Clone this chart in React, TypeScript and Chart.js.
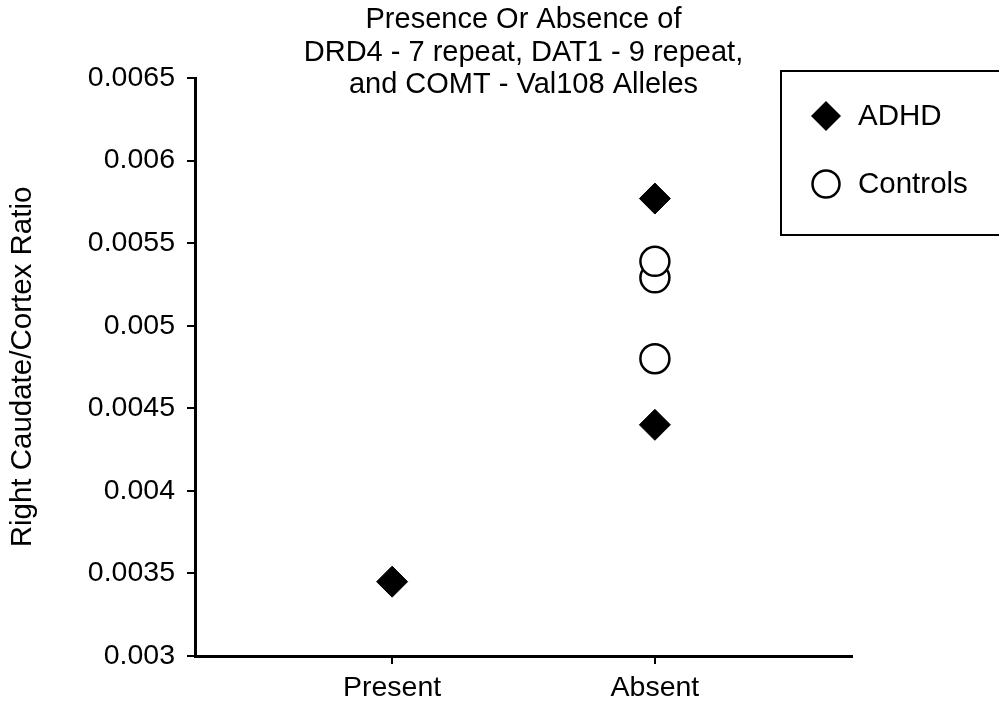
import React, { useEffect, useRef } from "react";
import { Chart, registerables } from "chart.js";

Chart.register(...registerables);

const titleLines = [
  "Presence Or Absence of",
  "DRD4 - 7 repeat, DAT1 - 9 repeat,",
  "and COMT - Val108 Alleles",
];
const categories = ["Present", "Absent"];
const yAxisTitle = "Right Caudate/Cortex Ratio";
const yMin = 0.003;
const yMax = 0.0065;
const yStep = 0.0005;

// category index (0 = Present, 1 = Absent) and value
const adhdCategory = [0, 1, 1];
const adhdValues = [0.00345, 0.00577, 0.0044];
const controlsCategory = [1, 1, 1];
const controlsValues = [0.0048, 0.00529, 0.00539];

const FONT = "'Liberation Sans', Arial, Helvetica, sans-serif";

const legendBoxPlugin = {
  id: "legendBox",
  afterDraw(chart: any) {
    const ctx = chart.ctx;
    ctx.save();
    ctx.strokeStyle = "#000";
    ctx.lineWidth = 2;
    ctx.strokeRect(781, 71, 240, 164);
    const rows = [116, 184];
    chart.data.datasets.forEach((ds: any, i: number) => {
      const cx = 826;
      const cy = rows[i];
      ctx.beginPath();
      if (ds.pointStyle === "rectRot") {
        const r = 15;
        ctx.moveTo(cx - r, cy);
        ctx.lineTo(cx, cy - r);
        ctx.lineTo(cx + r, cy);
        ctx.lineTo(cx, cy + r);
        ctx.closePath();
        ctx.fillStyle = "#000";
        ctx.fill();
      } else {
        ctx.arc(cx, cy, 13.5, 0, Math.PI * 2);
        ctx.fillStyle = "#fff";
        ctx.fill();
        ctx.lineWidth = 2.5;
        ctx.strokeStyle = "#000";
        ctx.stroke();
      }
      ctx.fillStyle = "#000";
      ctx.font = `29.5px ${FONT}`;
      ctx.textBaseline = "middle";
      ctx.textAlign = "left";
      ctx.fillText(ds.label, 858, cy + 1);
    });
    ctx.restore();
  },
};

export default function App() {
  const ref = useRef<HTMLCanvasElement | null>(null);
  useEffect(() => {
    document.body.style.margin = "0";
    if (!ref.current) return;
    const chart = new Chart(ref.current, {
      type: "scatter",
      data: {
        datasets: [
          {
            label: "ADHD",
            data: adhdValues.map((v, i) => ({ x: adhdCategory[i] + 1, y: v })),
            pointStyle: "rectRot",
            pointRadius: 15.5,
            pointHoverRadius: 15.5,
            backgroundColor: "#000",
            borderColor: "#000",
            borderWidth: 1,
          },
          {
            label: "Controls",
            data: controlsValues.map((v, i) => ({ x: controlsCategory[i] + 1, y: v })),
            pointStyle: "circle",
            pointRadius: 14.5,
            pointHoverRadius: 14.5,
            backgroundColor: "#fff",
            borderColor: "#000",
            borderWidth: 2.5,
          },
        ],
      },
      options: {
        responsive: false,
        animation: false,
        layout: { padding: { top: 0, left: 0, right: 147, bottom: 0 } },
        plugins: {
          legend: { display: false },
          tooltip: { enabled: false },
          title: {
            display: true,
            text: titleLines,
            fullSize: false,
            color: "#000",
            font: { family: FONT, size: 29, weight: "normal", lineHeight: 1.12 },
            padding: { top: 4, bottom: -23.44 },
          },
        },
        scales: {
          x: {
            type: "linear",
            min: 0.25,
            max: 2.75,
            afterBuildTicks: (s: any) => {
              s.ticks = categories.map((_, i) => ({ value: i + 1 }));
            },
            afterFit: (s: any) => {
              s.height = 46;
            },
            ticks: {
              color: "#000",
              font: { family: FONT, size: 28.5 },
              padding: 7,
              maxRotation: 0,
              autoSkip: false,
              callback: (v: any) => categories[Math.round(v) - 1] ?? "",
            },
            grid: {
              display: true,
              drawOnChartArea: false,
              drawTicks: true,
              tickLength: 8,
              color: "#000",
              lineWidth: 2,
            },
            border: { display: true, color: "#000", width: 3 },
          },
          y: {
            min: yMin,
            max: yMax,
            afterFit: (s: any) => {
              s.width = 195;
            },
            ticks: {
              stepSize: yStep,
              color: "#000",
              font: { family: FONT, size: 28.5 },
              padding: 12,
              callback: (v: any) => String(Number(Number(v).toFixed(4))),
            },
            grid: {
              display: true,
              drawOnChartArea: false,
              drawTicks: true,
              tickLength: 8,
              color: "#000",
              lineWidth: 2,
            },
            border: { display: true, color: "#000", width: 3 },
            title: {
              display: true,
              text: yAxisTitle,
              color: "#000",
              font: { family: FONT, size: 29.5 },
              padding: { top: 5, bottom: 0 },
            },
          },
        },
      },
      plugins: [legendBoxPlugin],
    });
    return () => chart.destroy();
  }, []);
  return (
    <div style={{ position: "absolute", left: 0, top: 0, width: 999, height: 702 }}>
      <canvas ref={ref} width={999} height={702} style={{ width: 999, height: 702 }} />
    </div>
  );
}
